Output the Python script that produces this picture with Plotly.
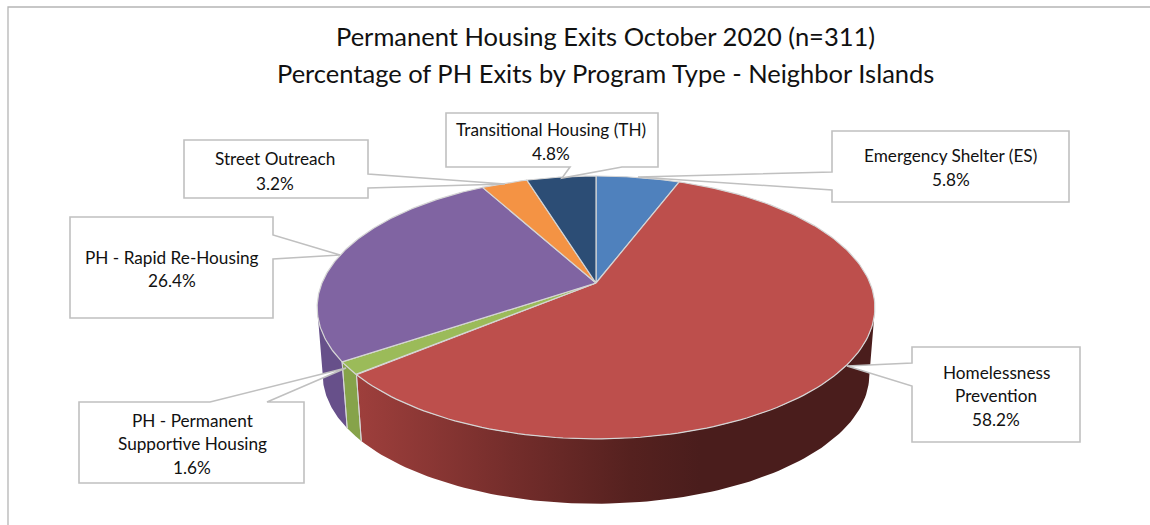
import numpy as np
import plotly.graph_objects as go

# ---------- data ----------
categories = ["Emergency Shelter (ES)", "Homelessness Prevention", "PH - Permanent Supportive Housing",
              "PH - Rapid Re-Housing", "Street Outreach", "Transitional Housing (TH)"]
values = [5.8, 58.2, 1.6, 26.4, 3.2, 4.8]
label_lines = [["Emergency Shelter (ES)"], ["Homelessness", "Prevention"], ["PH - Permanent", "Supportive Housing"],
               ["PH - Rapid Re-Housing"], ["Street Outreach"], ["Transitional Housing (TH)"]]
top_colors = ["#4f81bd", "#bd4f4c", "#9bbb59", "#8064a2", "#f49344", "#2c4d75"]
wall_colors = ["#3f6797", "#7b2f2d", "#86a34a", "#67508a", "#c4763a", "#233d5e"]
title_lines = ["Permanent Housing Exits October 2020 (n=311)",
               "Percentage of PH Exits by Program Type - Neighbor Islands"]

# ---------- pie projection (pixel space) ----------
CX, APEX_Y, A, B, K = 596, 283, 274, 126.9, 0.186
ELL_Y, DEPTH, SHRINK = 307, 67.5, 0.98
FRONT_Y = 307

def rim(f):
    t = 2 * np.pi * np.asarray(f)
    w = 1 + K * np.cos(t)
    return CX + A * np.sin(t) / w, APEX_Y - B * np.cos(t) / w

def lower(x, y):
    return CX + SHRINK * (x - CX), ELL_Y + SHRINK * (y - ELL_Y) + DEPTH

# ---------- callout boxes: x0, x1, y0, y1, pointer start, tip, pointer end, text centre ----------
callouts = [
    dict(box=(832, 1069, 131, 202), p=[(832, 172), (638, 177), (832, 190)], cx=950.5, cy=[155, 179]),
    dict(box=(912, 1080, 347, 442), p=[(912, 363), (847, 366), (912, 386)], cx=996, cy=[372, 395, 419]),
    dict(box=(79, 304, 402, 483), p=[(210, 402), (346, 368), (267, 402)], cx=192, cy=[420, 443, 467]),
    dict(box=(70, 273, 217, 318), p=[(273, 235), (340, 255), (273, 259)], cx=172, cy=[257, 280]),
    dict(box=(184, 368, 140, 198), p=[(368, 174), (505, 184), (368, 188)], cx=275, cy=[158, 183]),
    dict(box=(446, 658, 113, 167), p=[(570, 167), (562, 178), (622, 167)], cx=551, cy=[129, 153]),
]

fig = go.Figure()
edges = np.cumsum([0] + values) / sum(values)

# side walls
div_x, div_y = [], []
for i, cat in enumerate(categories):
    f = np.linspace(edges[i], edges[i + 1], 160)
    x, y = rim(f)
    keep = y >= FRONT_Y
    if keep.sum() < 2:
        continue
    x, y = x[keep], y[keep]
    lx, ly = lower(x, y)
    tr = dict(x=np.r_[x, lx[::-1], x[0]], y=np.r_[y, ly[::-1], y[0]], mode="lines", fill="toself",
              line=dict(width=0), name=cat, hoverinfo="name", showlegend=False)
    if cat == "Homelessness Prevention":
        tr["fillgradient"] = dict(type="horizontal", start=357, stop=700,
                                  colorscale=[[0, "#9e3f3c"], [0.45, "#742d2b"], [0.8, "#55211f"], [1, "#4a1d1c"]])
    else:
        tr["fillcolor"] = wall_colors[i]
    fig.add_trace(go.Scatter(**tr))
    for e in (edges[i], edges[i + 1]):
        ex, ey = rim(e)
        if ey >= FRONT_Y:
            bx, by = lower(ex, ey)
            div_x += [ex, bx, None]
            div_y += [ey, by, None]
fig.add_trace(go.Scatter(x=div_x, y=div_y, mode="lines", line=dict(color="#d5d5d5", width=1),
                         hoverinfo="skip", showlegend=False))

# top face
for i, cat in enumerate(categories):
    f = np.linspace(edges[i], edges[i + 1], 160)
    x, y = rim(f)
    fig.add_trace(go.Scatter(x=np.r_[CX, x, CX], y=np.r_[APEX_Y, y, APEX_Y], mode="lines", fill="toself",
                             fillcolor=top_colors[i], line=dict(color="#d5d5d5", width=1.2),
                             name=cat, text=f"{values[i]}%", hoverinfo="name+text", showlegend=False))

shapes = []
annotations = []
for i, c in enumerate(callouts):
    x0, x1, y0, y1 = c["box"]
    p = c["p"]
    if p[0][1] == y0:
        pts = [(x0, y0)] + p + [(x1, y0), (x1, y1), (x0, y1)]
    elif p[0][1] == y1:
        pts = [(x0, y0), (x1, y0), (x1, y1)] + p[::-1] + [(x0, y1)]
    elif p[0][0] == x1:
        pts = [(x0, y0), (x1, y0)] + p + [(x1, y1), (x0, y1)]
    else:
        pts = [(x0, y0), (x1, y0), (x1, y1), (x0, y1)] + p[::-1]
    path = "M " + " L ".join(f"{a},{b}" for a, b in pts) + " Z"
    shapes.append(dict(type="path", path=path, xref="x", yref="y", fillcolor="white",
                       line=dict(color="#c0c0c0", width=1.6), layer="above"))
    lines = label_lines[i] + [f"{values[i]}%"]
    for t, yy in zip(lines, c["cy"]):
        annotations.append(dict(x=c["cx"], y=yy, text=t, showarrow=False, xref="x", yref="y",
                                font=dict(family="Lato", size=17.2, color="#111111")))

# chart frame: left and top edges only
shapes.append(dict(type="path", path="M 8,525 L 8,7 L 1150,7", xref="x", yref="y",
                   line=dict(color="#b5b5b5", width=1.3), layer="below"))

for t, yy in zip(title_lines, [36, 73]):
    annotations.append(dict(x=605, y=yy, text=t, showarrow=False, xref="x", yref="y",
                            font=dict(family="Lato", size=25.5, color="#111111")))

fig.update_layout(width=1150, height=525, margin=dict(l=0, r=0, t=0, b=0), paper_bgcolor="white",
                  plot_bgcolor="white", showlegend=False, shapes=shapes, annotations=annotations,
                  xaxis=dict(range=[0, 1150], visible=False, fixedrange=True),
                  yaxis=dict(range=[525, 0], visible=False, fixedrange=True))
fig.write_html("out.html", config={"displayModeBar": False},
               post_script="document.body.style.margin='0';document.body.style.overflow='hidden';")
